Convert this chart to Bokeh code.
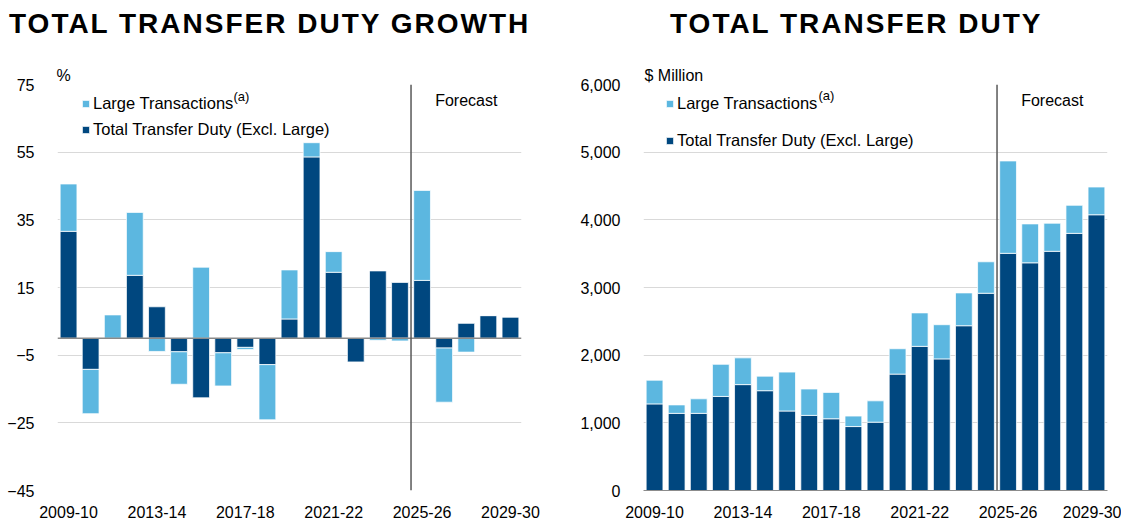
from bokeh.plotting import figure
from bokeh.models import (ColumnDataSource, Range1d, FixedTicker, Span, Label, Title,
                          Legend, LegendItem, NumeralTickFormatter, Div)
from bokeh.layouts import column, row
from bokeh.embed import file_html
from bokeh.resources import INLINE

# ---------------- data ----------------
categories = ["2009-10", "2010-11", "2011-12", "2012-13", "2013-14", "2014-15",
              "2015-16", "2016-17", "2017-18", "2018-19", "2019-20", "2020-21",
              "2021-22", "2022-23", "2023-24", "2024-25", "2025-26", "2026-27",
              "2027-28", "2028-29", "2029-30"]

# growth contributions, % (left chart)
growth_excl_large = [31.6, -9.2, 0.0, 18.6, 9.3, -4.0, -17.6, -4.3, -2.7, -7.8, 5.7,
                     53.6, 19.5, -7.0, 19.9, 16.5, 17.1, -2.9, 4.4, 6.7, 6.3]
growth_large = [14.0, -13.1, 6.9, 18.6, -3.9, -9.6, 21.0, -9.8, -0.6, -16.3, 14.5,
                4.2, 6.1, 0.0, -0.6, -0.8, 26.6, -16.0, -4.1, 0.0, 0.0]

# transfer duty, $ million (right chart)
duty_excl_large = [1280, 1140, 1140, 1390, 1565, 1475, 1175, 1110, 1060, 945, 1010,
                   1720, 2130, 1945, 2435, 2915, 3505, 3365, 3535, 3800, 4075]
duty_large = [350, 125, 215, 475, 395, 215, 575, 390, 390, 155, 315,
              375, 495, 505, 485, 465, 1365, 575, 415, 415, 410]

growth_ticks = [-45, -25, -5, 15, 35, 55, 75]
duty_ticks = [0, 1000, 2000, 3000, 4000, 5000, 6000]
label_positions = [0, 4, 8, 12, 16, 20]
forecast_boundary = 15.5

DARK = "#00477F"
LIGHT = "#5CB7E0"
FONT = "Liberation Sans"
GRID = "#D9D9D9"


def base_fig(width, b_left, b_right, y_lo, y_hi, yticks, unit_text, unit_offset):
    p = figure(width=width, height=479, x_range=Range1d(-0.5, len(categories) - 0.5),
               y_range=Range1d(y_lo, y_hi), output_backend="svg", toolbar_location=None,
               min_border_left=b_left, min_border_right=b_right,
               min_border_top=43, min_border_bottom=28)
    p.outline_line_color = None
    p.background_fill_color = "white"
    p.border_fill_color = "white"
    p.xgrid.grid_line_color = None
    p.ygrid.grid_line_color = GRID
    p.ygrid.grid_line_width = 1
    p.yaxis.ticker = FixedTicker(ticks=yticks)
    p.yaxis.axis_line_color = None
    p.yaxis.major_tick_line_color = None
    p.yaxis.minor_tick_line_color = None
    p.yaxis.major_label_standoff = 17
    p.xaxis.ticker = FixedTicker(ticks=label_positions)
    p.xaxis.major_label_overrides = {i: categories[i] for i in label_positions}
    p.xaxis.major_tick_line_color = None
    p.xaxis.minor_tick_line_color = None
    p.xaxis.major_label_standoff = 9
    for ax in (p.xaxis, p.yaxis):
        ax.major_label_text_font = FONT
        ax.major_label_text_font_size = "16px"
        ax.major_label_text_color = "black"
    p.add_layout(Title(text=unit_text, align="left", offset=unit_offset, standoff=1,
                       text_font=FONT, text_font_size="16px", text_font_style="normal",
                       text_color="black"), "above")
    return p


def stacked(series_list):
    """Stack positive values upward and negative values downward (Excel style)."""
    pos = [0.0] * len(categories)
    neg = [0.0] * len(categories)
    out = []
    for s in series_list:
        bottoms, tops = [], []
        for i, v in enumerate(s):
            if v >= 0:
                bottoms.append(pos[i]); tops.append(pos[i] + v); pos[i] += v
            else:
                bottoms.append(neg[i]); tops.append(neg[i] + v); neg[i] += v
        out.append((bottoms, tops))
    return out


def add_legend(p, vx, vy, spacing, r_large, r_excl):
    legend = Legend(items=[LegendItem(label="Large Transactions", renderers=[r_large]),
                           LegendItem(label="Total Transfer Duty (Excl. Large)", renderers=[r_excl])],
                    location=(vx, vy), padding=0, margin=0, spacing=spacing,
                    glyph_width=9, glyph_height=9, label_height=20, label_standoff=3,
                    label_text_font=FONT, label_text_font_size="16.5px",
                    label_text_color="black", border_line_color=None,
                    background_fill_alpha=0)
    p.add_layout(legend, "center")


def add_text(p, x, y, text, size="16px", align="left", x_off=0, y_off=0):
    p.add_layout(Label(x=x, y=y, text=text, x_offset=x_off, y_offset=y_off,
                       text_font=FONT, text_font_size=size, text_color="black",
                       text_align=align, text_baseline="middle"))


xs = list(range(len(categories)))

# ---------------- left chart: growth ----------------
p1 = base_fig(560, 57, 39, -45, 75, growth_ticks, "%", -1)
(b_ex, t_ex), (b_lg, t_lg) = stacked([growth_excl_large, growth_large])
src1 = ColumnDataSource(dict(x=xs, b_ex=b_ex, t_ex=t_ex, b_lg=b_lg, t_lg=t_lg))
r1_ex = p1.vbar(x="x", bottom="b_ex", top="t_ex", width=0.76, source=src1,
                fill_color=DARK, line_color="white", line_width=0.75)
r1_lg = p1.vbar(x="x", bottom="b_lg", top="t_lg", width=0.76, source=src1,
                fill_color=LIGHT, line_color="white", line_width=0.75)
p1.xaxis.axis_line_color = None
p1.add_layout(Span(location=0, dimension="width", line_color="#898989", line_width=1.5))
p1.add_layout(Span(location=forecast_boundary, dimension="height",
                   line_color="#595959", line_width=1.5))
add_legend(p1, 24, 351, 6, r1_lg, r1_ex)
add_text(p1, -0.5, 75, "(a)", size="13px", x_off=176, y_off=-12)
add_text(p1, 18, 70.4, "Forecast", align="center")

# ---------------- right chart: total ----------------
p2 = base_fig(561, 83, 14, 0, 6000, duty_ticks, "$ Million", 1)
src2 = ColumnDataSource(dict(x=xs, excl=duty_excl_large, large=duty_large))
r2 = p2.vbar_stack(["excl", "large"], x="x", width=0.76, source=src2,
                   fill_color=[DARK, LIGHT], line_color="white", line_width=0.75)
p2.yaxis.formatter = NumeralTickFormatter(format="0,0")
p2.xaxis.axis_line_color = "#8C8C8C"
p2.xaxis.axis_line_width = 1
p2.add_layout(Span(location=forecast_boundary, dimension="height",
                   line_color="#595959", line_width=1.5))
add_legend(p2, 22, 340, 17, r2[1], r2[0])
add_text(p2, -0.5, 6000, "(a)", size="13px", x_off=175, y_off=-11)
add_text(p2, 18, 5765, "Forecast", align="center")

# ---------------- titles ----------------
title_style = ("position:absolute;top:10px;white-space:nowrap;font-family:'Liberation Sans',Arial,sans-serif;"
               "font-weight:bold;font-size:28px;line-height:28px;letter-spacing:2px;color:#000;")
titles = Div(text=(f'<div style="position:relative;width:1121px;height:41px;">'
                   f'<span style="{title_style}left:9px;">TOTAL TRANSFER DUTY GROWTH</span>'
                   f'<span style="{title_style}left:670px;">TOTAL TRANSFER DUTY</span></div>'),
             width=1121, height=41, margin=(0, 0, 0, 0))

layout = column(titles, row(p1, p2))
open("out.html", "w").write(file_html(layout, INLINE))
